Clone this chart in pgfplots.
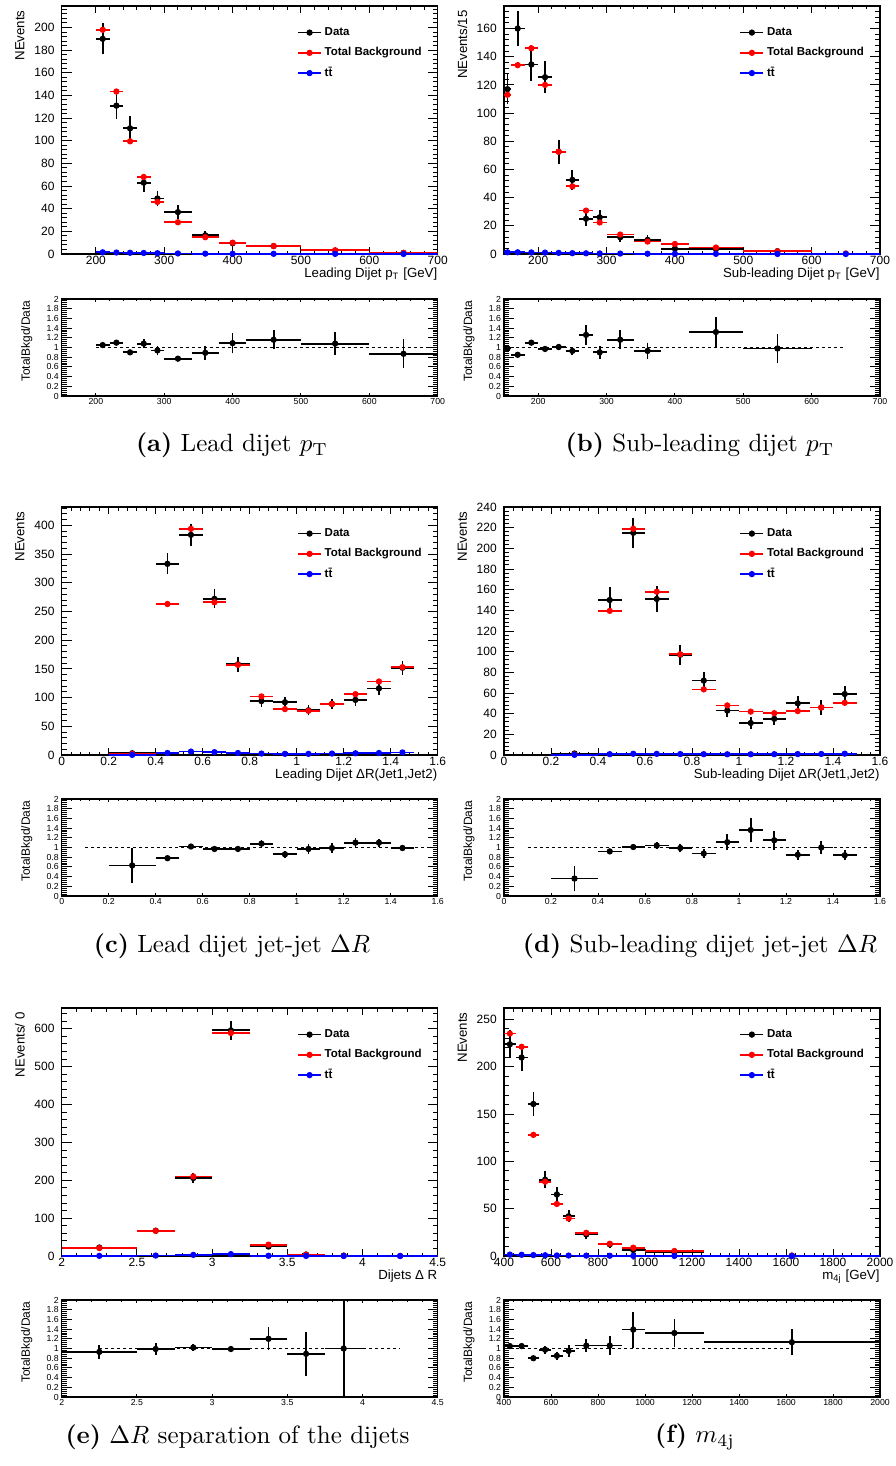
\documentclass[border=0pt]{standalone}
\usepackage{fontspec}
\usepackage{pgfplots}
\usepackage{pgfplotstable}
\pgfplotsset{compat=1.18}
\newfontfamily\arial{Liberation Sans}
\newcommand{\fmain}{\arial\fontsize{4.8}{5.5}\selectfont}
\newcommand{\ftitle}{\arial\fontsize{5.3}{6}\selectfont}
\newcommand{\fleg}{\arial\bfseries\fontsize{4.6}{5.5}\selectfont}
\newcommand{\fratio}{\arial\fontsize{3.5}{4}\selectfont}
\newcommand{\fratiot}{\arial\fontsize{4.8}{5.5}\selectfont}
\definecolor{rred}{RGB}{255,0,0}
\definecolor{rblue}{RGB}{0,0,255}

\pgfplotsset{
  rootax/.style={
    scale only axis, width=150.4pt,
    axis line style={line width=0.5pt},
    tick align=inside,
    every tick/.style={black, line width=0.4pt},
    minor tick num=4,
    scaled ticks=false,
    /pgf/number format/1000 sep={},
    /pgf/number format/assume math mode=true,
  },
  hist/.style={color=#1, draw=#1, fill=#1, only marks, mark=*, mark size=1.05pt,
    error bars/.cd, x dir=both, x explicit, y dir=both, y explicit,
    error mark=none, error bar style={line width=0.7pt, solid}},
  mainax/.style={rootax, height=99.2pt, ymin=0,
    tick label style={font=\fmain, inner sep=0pt},
    xticklabel style={anchor=north, yshift=-0.6pt},
    yticklabel style={anchor=east, xshift=-2.7pt},
    xtick style={/pgfplots/major tick length=2.8pt, /pgfplots/minor tick length=1.4pt},
    ytick style={/pgfplots/major tick length=4pt, /pgfplots/minor tick length=2pt},
    every axis y label/.style={at={(axis description cs:-0.111,0.984)}, rotate=90, anchor=east, font=\ftitle, inner sep=0pt},
    every axis x label/.style={at={(axis description cs:1,0)}, anchor=base east, yshift=-9.2pt, font=\ftitle, inner sep=0pt},
    legend style={draw=none, fill=none, at={(axis description cs:0.625,0.922)}, anchor=north west, font=\fleg, inner sep=0pt, row sep=2.7pt, column sep=0.6pt, nodes={inner sep=0.5pt, text height=3.4pt, text depth=1pt}},
    legend cell align=left,
    legend image code/.code={\draw[#1, line width=0.7pt] (0pt,0pt) -- (9.2pt,0pt); \fill[#1] (4.6pt,0pt) circle (1.05pt);},
  },
  ratioax/.style={rootax, height=38.8pt, ymin=0, ymax=2,
    ytick={0,0.2,0.4,0.6,0.8,1,1.2,1.4,1.6,1.8,2},
    tick label style={font=\fratio, inner sep=0pt},
    xticklabel style={anchor=north, yshift=-0.8pt},
    yticklabel style={anchor=east, xshift=-1pt},
    xtick style={/pgfplots/major tick length=1.2pt, /pgfplots/minor tick length=0.6pt},
    ytick style={/pgfplots/major tick length=4pt, /pgfplots/minor tick length=2pt},
    every axis y label/.style={at={(axis description cs:-0.093,0.99)}, rotate=90, anchor=east, font=\fratiot, inner sep=0pt},
    ylabel={TotalBkgd/Data},
  },
}

% ---------------- (a) Leading dijet pT
\pgfplotstableread{
x ex y ey
210 10 190 13.8
230 10 131 11.4
250 10 111 10.5
270 10 63 7.9
290 10 49 7.0
320 20 37 6.1
360 20 16.5 4.1
400 20 9.5 3.1
460 40 7 2.6
550 50 3 1.7
650 50 1 1.0
}\adat
\pgfplotstableread{
x ex y ey
210 10 198 2.5
230 10 143.5 2
250 10 99.5 1.7
270 10 68 1.4
290 10 46 1.2
320 20 28 0.8
360 20 14.8 0.6
400 20 10 0.5
460 40 7 0.4
550 50 3.3 0.2
650 50 0.9 0.1
}\abkg
\pgfplotstableread{
x ex y ey
210 10 1.5 0
230 10 1.3 0
250 10 1.1 0
270 10 0.9 0
290 10 0.7 0
320 20 0.5 0
360 20 0.3 0
400 20 0.2 0
460 40 0.15 0
550 50 0.08 0
650 50 0.04 0
}\att
\pgfplotstableread{
x ex y ey
210 10 1.05 0.03
230 10 1.10 0.04
250 10 0.90 0.03
270 10 1.08 0.10
290 10 0.94 0.10
320 20 0.77 0.05
360 20 0.89 0.14
400 20 1.09 0.21
460 40 1.16 0.20
550 50 1.08 0.24
650 50 0.87 0.30
}\arat

% ---------------- (b) Sub-leading dijet pT
\pgfplotstableread{
x ex y ey
155 5 117 10.8
170 10 160 12.6
190 10 134.5 11.6
210 10 125.5 11.2
230 10 72.6 8.5
250 10 52.6 7.3
270 10 25 5
290 10 26 5.1
320 20 11.9 3.4
360 20 10 3.2
400 20 3.8 1.9
460 40 3.5 1.9
550 50 2 1.4
}\bdat
\pgfplotstableread{
x ex y ey
155 5 113 2
170 10 134 2
190 10 146 2
210 10 120 2
230 10 72.6 1.5
250 10 48 1.2
270 10 30.8 1
290 10 22.4 0.8
320 20 13.8 0.6
360 20 8.8 0.4
400 20 7.1 0.4
460 40 4.6 0.3
550 50 1.9 0.15
650 50 0.4 0.05
}\bbkg
\pgfplotstableread{
x ex y ey
155 5 1.2 0
170 10 1.2 0
190 10 1.1 0
210 10 1.0 0
230 10 0.8 0
250 10 0.6 0
270 10 0.5 0
290 10 0.4 0
320 20 0.3 0
360 20 0.2 0
400 20 0.15 0
460 40 0.1 0
550 50 0.05 0
650 50 0.02 0
}\btt
\pgfplotstableread{
x ex y ey
155 5 0.98 0.08
170 10 0.85 0.04
190 10 1.10 0.05
210 10 0.97 0.05
230 10 1.01 0.07
250 10 0.93 0.08
270 10 1.26 0.20
290 10 0.90 0.13
320 20 1.16 0.20
360 20 0.93 0.17
460 40 1.32 0.30
550 50 0.98 0.29
}\brat

% ---------------- (c) Leading dijet dR
\pgfplotstableread{
x ex y ey
0.3 0.1 3 1.7
0.45 0.05 333 18.2
0.55 0.05 383.5 19.6
0.65 0.05 272 16.5
0.75 0.05 158 12.6
0.85 0.05 94 9.7
0.95 0.05 92 9.6
1.05 0.05 78 8.8
1.15 0.05 89 9.4
1.25 0.05 96 9.8
1.35 0.05 116 10.8
1.45 0.05 152 12.3
}\cdat
\pgfplotstableread{
x ex y ey
0.3 0.1 1.9 0.3
0.45 0.05 263 2.5
0.55 0.05 394 3
0.65 0.05 266 2.5
0.75 0.05 157 2
0.85 0.05 102 1.5
0.95 0.05 80 1.3
1.05 0.05 77 1.3
1.15 0.05 89 1.4
1.25 0.05 106 1.5
1.35 0.05 128 1.6
1.45 0.05 153 1.8
}\cbkg
\pgfplotstableread{
x ex y ey
0.3 0.1 0.3 0
0.45 0.05 3.5 0
0.55 0.05 6 0
0.65 0.05 5 0
0.75 0.05 3.5 0
0.85 0.05 2.5 0
0.95 0.05 2 0
1.05 0.05 2 0
1.15 0.05 2.5 0
1.25 0.05 3 0
1.35 0.05 3.5 0
1.45 0.05 4.5 0
}\ctt
\pgfplotstableread{
x ex y ey
0.3 0.1 0.63 0.37
0.45 0.05 0.78 0.02
0.55 0.05 1.02 0.03
0.65 0.05 0.97 0.03
0.75 0.05 0.97 0.06
0.85 0.05 1.08 0.08
0.95 0.05 0.86 0.07
1.05 0.05 0.97 0.10
1.15 0.05 0.99 0.10
1.25 0.05 1.10 0.10
1.35 0.05 1.10 0.08
1.45 0.05 0.99 0.07
}\crat

% ---------------- (d) Sub-leading dijet dR
\pgfplotstableread{
x ex y ey
0.3 0.1 1.5 1.2
0.45 0.05 150 12.2
0.55 0.05 215 14.7
0.65 0.05 151 12.3
0.75 0.05 97 9.8
0.85 0.05 72 8.5
0.95 0.05 43 6.6
1.05 0.05 31 5.6
1.15 0.05 35 5.9
1.25 0.05 50 7.1
1.35 0.05 46 6.8
1.45 0.05 59 7.7
}\ddat
\pgfplotstableread{
x ex y ey
0.3 0.1 0.55 0.1
0.45 0.05 139.5 1.5
0.55 0.05 219 2
0.65 0.05 158 1.7
0.75 0.05 97.5 1.3
0.85 0.05 63.5 1
0.95 0.05 48 0.9
1.05 0.05 42 0.8
1.15 0.05 40.5 0.8
1.25 0.05 42.5 0.8
1.35 0.05 46 0.9
1.45 0.05 50.5 0.9
}\dbkg
\pgfplotstableread{
x ex y ey
0.3 0.1 0.2 0
0.45 0.05 0.8 0
0.55 0.05 1.2 0
0.65 0.05 1.1 0
0.75 0.05 0.9 0
0.85 0.05 0.8 0
0.95 0.05 0.7 0
1.05 0.05 0.7 0
1.15 0.05 0.8 0
1.25 0.05 0.9 0
1.35 0.05 1.0 0
1.45 0.05 1.3 0
}\dtt
\pgfplotstableread{
x ex y ey
0.3 0.1 0.36 0.26
0.45 0.05 0.92 0.05
0.55 0.05 1.01 0.04
0.65 0.05 1.04 0.07
0.75 0.05 0.99 0.09
0.85 0.05 0.875 0.09
0.95 0.05 1.11 0.16
1.05 0.05 1.36 0.24
1.15 0.05 1.15 0.20
1.25 0.05 0.85 0.10
1.35 0.05 1.00 0.14
1.45 0.05 0.84 0.10
}\drat

% ---------------- (e) Dijets dR
\pgfplotstableread{
x ex y ey
2.25 0.25 22.5 4.7
2.625 0.125 67 8.2
2.875 0.125 206 14.3
3.125 0.125 596 24.4
3.375 0.125 25 5
3.625 0.125 4 2
3.875 0.125 1 1
}\edat
\pgfplotstableread{
x ex y ey
2.25 0.25 21 0.8
2.625 0.125 66.5 1.2
2.875 0.125 210 2.5
3.125 0.125 589 4
3.375 0.125 30 0.8
3.625 0.125 3.6 0.3
3.875 0.125 1 0.1
4.25 0.25 0.3 0.05
}\ebkg
\pgfplotstableread{
x ex y ey
2.25 0.25 0.4 0
2.625 0.125 1.2 0
2.875 0.125 3 0
3.125 0.125 5 0
3.375 0.125 0.6 0
3.625 0.125 0.3 0
3.875 0.125 0.1 0
4.25 0.25 0.05 0
}\ett
\pgfplotstableread{
x ex y ey
2.25 0.25 0.93 0.14
2.625 0.125 0.99 0.12
2.875 0.125 1.02 0.07
3.125 0.125 0.99 0.04
3.375 0.125 1.20 0.24
3.625 0.125 0.89 0.45
3.875 0.125 1.00 1.2
}\erat

% ---------------- (f) m4j
\pgfplotstableread{
x ex y ey
425 25 223.7 15
475 25 209.7 14.5
525 25 160.6 12.7
575 25 80.6 9
625 25 65 8.1
675 25 42 6.5
750 50 22.8 4.8
850 50 12.3 3.5
950 50 6.3 2.5
1125 125 4 2
1625 375 0.4 0.1
}\fdat
\pgfplotstableread{
x ex y ey
425 25 235 2.5
475 25 221 2.5
525 25 128 1.8
575 25 78.5 1.4
625 25 55 1.2
675 25 39.6 1
750 50 24.5 0.8
850 50 13 0.6
950 50 8.8 0.5
1125 125 5.3 0.3
1625 375 0.45 0.05
}\fbkg
\pgfplotstableread{
x ex y ey
425 25 1.5 0
475 25 1.3 0
525 25 1.0 0
575 25 0.8 0
625 25 0.6 0
675 25 0.5 0
750 50 0.4 0
850 50 0.3 0
950 50 0.2 0
1125 125 0.1 0
1625 375 0.05 0
}\ftt
\pgfplotstableread{
x ex y ey
425 25 1.05 0.04
475 25 1.05 0.05
525 25 0.80 0.03
575 25 0.975 0.08
625 25 0.85 0.08
675 25 0.95 0.12
750 50 1.06 0.14
850 50 1.06 0.20
950 50 1.39 0.37
1125 125 1.32 0.28
1625 375 1.13 0.27
}\frat

\newcommand{\tripleplot}[3]{%
  \addplot[hist=black] table[x=x,y=y,x error=ex,y error=ey] {#1};
  \addlegendentry{Data}
  \addplot[hist=rred] table[x=x,y=y,x error=ex,y error=ey] {#2};
  \addlegendentry{Total Background}
  \addplot[hist=rblue] table[x=x,y=y,x error=ex,y error=ey] {#3};
  \addlegendentry{t\={t}}
}

\begin{document}
\begin{tikzpicture}
\useasboundingbox (0,0) rectangle (358.4pt,-586.4pt);

% ===== (a)
\begin{axis}[mainax, at={(24.68pt,-101.6pt)}, anchor=south west,
  xmin=150, xmax=700, ymax=219, xtick={200,300,...,700}, ytick distance=20,
  ylabel={NEvents}, xlabel={Leading Dijet p\textsubscript{T} [GeV]}]
\tripleplot{\adat}{\abkg}{\att}
\end{axis}
\begin{axis}[ratioax, at={(24.68pt,-158.4pt)}, anchor=south west,
  xmin=150, xmax=700, xtick={200,300,...,700}]
\addplot[black, line width=0.4pt, dash pattern=on 1.2pt off 1.2pt] coordinates {(200,1) (700,1)};
\addplot[hist=black] table[x=x,y=y,x error=ex,y error=ey] {\arat};
\end{axis}
\node[font=\fontsize{10}{12}\selectfont] at (92.8pt,-178pt) {\textbf{(a)} Lead dijet $p_{\mathrm{T}}$};

% ===== (b)
\begin{axis}[mainax, at={(201.6pt,-101.6pt)}, anchor=south west,
  xmin=150, xmax=700, ymax=176, xtick={200,300,...,700}, ytick distance=20,
  ylabel={NEvents/15}, xlabel={Sub-leading Dijet p\textsubscript{T} [GeV]}]
\tripleplot{\bdat}{\bbkg}{\btt}
\end{axis}
\begin{axis}[ratioax, at={(201.6pt,-158.4pt)}, anchor=south west,
  xmin=150, xmax=700, xtick={200,300,...,700}]
\addplot[black, line width=0.4pt, dash pattern=on 1.2pt off 1.2pt] coordinates {(150,1) (650,1)};
\addplot[hist=black] table[x=x,y=y,x error=ex,y error=ey] {\brat};
\end{axis}
\node[font=\fontsize{10}{12}\selectfont] at (280pt,-178pt) {\textbf{(b)} Sub-leading dijet $p_{\mathrm{T}}$};

% ===== (c)
\begin{axis}[mainax, at={(24.68pt,-302pt)}, anchor=south west,
  xmin=0, xmax=1.6, ymax=432, xtick={0,0.2,0.4,0.6,0.8,1,1.2,1.4,1.6}, ytick distance=50,
  ylabel={NEvents}, xlabel={Leading Dijet ΔR(Jet1,Jet2)}]
\tripleplot{\cdat}{\cbkg}{\ctt}
\end{axis}
\begin{axis}[ratioax, at={(24.68pt,-358.4pt)}, anchor=south west,
  xmin=0, xmax=1.6, xtick={0,0.2,0.4,0.6,0.8,1,1.2,1.4,1.6}]
\addplot[black, line width=0.4pt, dash pattern=on 1.2pt off 1.2pt] coordinates {(0.1,1) (1.6,1)};
\addplot[hist=black] table[x=x,y=y,x error=ex,y error=ey] {\crat};
\end{axis}
\node[font=\fontsize{10}{12}\selectfont] at (92.8pt,-378.4pt) {\textbf{(c)} Lead dijet jet-jet $\Delta R$};

% ===== (d)
\begin{axis}[mainax, at={(201.6pt,-302pt)}, anchor=south west,
  xmin=0, xmax=1.6, ymax=240, xtick={0,0.2,0.4,0.6,0.8,1,1.2,1.4,1.6}, ytick distance=20,
  ylabel={NEvents}, xlabel={Sub-leading Dijet ΔR(Jet1,Jet2)}]
\tripleplot{\ddat}{\dbkg}{\dtt}
\end{axis}
\begin{axis}[ratioax, at={(201.6pt,-358.4pt)}, anchor=south west,
  xmin=0, xmax=1.6, xtick={0,0.2,0.4,0.6,0.8,1,1.2,1.4,1.6}]
\addplot[black, line width=0.4pt, dash pattern=on 1.2pt off 1.2pt] coordinates {(0.1,1) (1.6,1)};
\addplot[hist=black] table[x=x,y=y,x error=ex,y error=ey] {\drat};
\end{axis}
\node[font=\fontsize{10}{12}\selectfont] at (280pt,-378.4pt) {\textbf{(d)} Sub-leading dijet jet-jet $\Delta R$};

% ===== (e)
\begin{axis}[mainax, at={(24.68pt,-502.4pt)}, anchor=south west,
  xmin=2, xmax=4.5, ymax=655, xtick={2,2.5,3,3.5,4,4.5}, ytick distance=100,
  ylabel={NEvents/ 0}, xlabel={Dijets Δ R}]
\tripleplot{\edat}{\ebkg}{\ett}
\end{axis}
\begin{axis}[ratioax, at={(24.68pt,-558.8pt)}, anchor=south west,
  xmin=2, xmax=4.5, xtick={2,2.5,3,3.5,4,4.5}]
\addplot[black, line width=0.4pt, dash pattern=on 1.2pt off 1.2pt] coordinates {(2.25,1) (4.25,1)};
\addplot[hist=black] table[x=x,y=y,x error=ex,y error=ey] {\erat};
\end{axis}
\node[font=\fontsize{10}{12}\selectfont] at (95pt,-574.8pt) {\textbf{(e)} $\Delta R$ separation of the dijets};

% ===== (f)
\begin{axis}[mainax, at={(201.6pt,-502.4pt)}, anchor=south west,
  xmin=400, xmax=2000, ymax=262, xtick={400,600,...,2000}, ytick distance=50,
  ylabel={NEvents}, xlabel={m\textsubscript{4j} [GeV]}]
\tripleplot{\fdat}{\fbkg}{\ftt}
\end{axis}
\begin{axis}[ratioax, at={(201.6pt,-558.8pt)}, anchor=south west,
  xmin=400, xmax=2000, xtick={400,600,...,2000}]
\addplot[black, line width=0.4pt, dash pattern=on 1.2pt off 1.2pt] coordinates {(400,1) (1625,1)};
\addplot[hist=black] table[x=x,y=y,x error=ex,y error=ey] {\frat};
\end{axis}
\node[font=\fontsize{10}{12}\selectfont] at (278pt,-574.8pt) {\textbf{(f)} $m_{4\mathrm{j}}$};

\end{tikzpicture}
\end{document}
